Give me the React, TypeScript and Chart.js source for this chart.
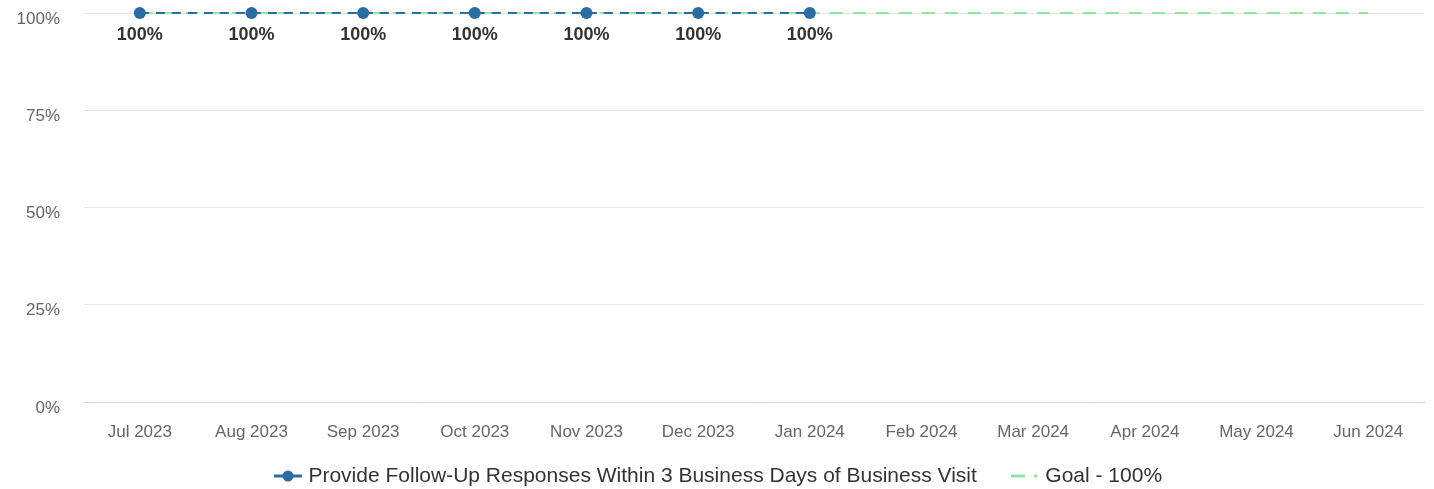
import React, { useEffect, useRef } from "react";
import { Chart, registerables } from "chart.js";

Chart.register(...registerables);

const categories = ["Jul 2023", "Aug 2023", "Sep 2023", "Oct 2023", "Nov 2023", "Dec 2023", "Jan 2024", "Feb 2024", "Mar 2024", "Apr 2024", "May 2024", "Jun 2024"];
const responseValues: (number | null)[] = [100, 100, 100, 100, 100, 100, 100, null, null, null, null, null];
const goalValues = [100, 100, 100, 100, 100, 100, 100, 100, 100, 100, 100, 100];
const yTicks = [0, 25, 50, 75, 100];

const seriesName = "Provide Follow-Up Responses Within 3 Business Days of Business Visit";
const goalName = "Goal - 100%";

const BLUE = "#2b6ca3";
const GREEN = "#8fe6a3";
const FONT = "'Liberation Sans', Arial, sans-serif";

function makeSeriesIcon() {
  const c = document.createElement("canvas");
  c.width = 28; c.height = 14;
  const ctx = c.getContext("2d")!;
  ctx.strokeStyle = BLUE; ctx.lineWidth = 3;
  ctx.beginPath(); ctx.moveTo(0, 7); ctx.lineTo(28, 7); ctx.stroke();
  ctx.fillStyle = BLUE;
  ctx.beginPath(); ctx.arc(14, 7, 5.5, 0, Math.PI * 2); ctx.fill();
  return c;
}
function makeGoalIcon() {
  const c = document.createElement("canvas");
  c.width = 28; c.height = 14;
  const ctx = c.getContext("2d")!;
  ctx.strokeStyle = GREEN; ctx.lineWidth = 3;
  ctx.beginPath(); ctx.moveTo(0, 7); ctx.lineTo(14, 7); ctx.stroke();
  ctx.beginPath(); ctx.moveTo(23, 7); ctx.lineTo(26, 7); ctx.stroke();
  return c;
}

const dataLabelPlugin = {
  id: "dataLabels",
  afterDatasetsDraw(chart: any) {
    const ctx = chart.ctx;
    const meta = chart.getDatasetMeta(0);
    ctx.save();
    ctx.font = `bold 18px ${FONT}`;
    ctx.fillStyle = "#333333";
    ctx.textAlign = "center";
    ctx.textBaseline = "middle";
    meta.data.forEach((pt: any, i: number) => {
      const v = responseValues[i];
      if (v == null) return;
      ctx.fillText(`${v}%`, pt.x, pt.y + 22);
    });
    ctx.restore();
  },
};

const layoutTweakPlugin = {
  id: "layoutTweak",
  afterLayout(chart: any) {
    const lg = chart.legend;
    if (lg) {
      lg.top += 7.5;
      lg.bottom += 7.5;
      lg.left += 8;
      lg.right += 8;
    }
    const x = chart.scales.x;
    if (x) x.bottom = x.top + 60;
  },
};

export default function App() {
  const ref = useRef<HTMLCanvasElement>(null);
  useEffect(() => {
    document.body.style.margin = "0";
    const icons = [makeSeriesIcon(), makeGoalIcon()];
    const chart = new Chart(ref.current!, {
      type: "line",
      data: {
        labels: categories,
        datasets: [
          {
            label: seriesName,
            data: responseValues,
            borderColor: BLUE,
            backgroundColor: BLUE,
            borderWidth: 2,
            borderDash: [9, 7],
            pointRadius: 6,
            pointHoverRadius: 6,
            pointBackgroundColor: BLUE,
            pointBorderWidth: 0,
            clip: false,
            order: 0,
          },
          {
            label: goalName,
            data: goalValues,
            borderColor: GREEN,
            backgroundColor: GREEN,
            borderWidth: 2,
            borderDash: [13, 10],
            pointRadius: 0,
            clip: false,
            order: 1,
          },
        ],
      },
      options: {
        animation: false,
        responsive: false,
        layout: { padding: { top: 13, right: 10, left: 0, bottom: 0 } },
        plugins: {
          tooltip: { enabled: false },
          legend: {
            position: "bottom",
            labels: {
              usePointStyle: true,
              pointStyleWidth: 20,
              boxWidth: 20,
              boxHeight: 14,
              padding: 38,
              color: "#333333",
              font: { family: FONT, size: 21 },
              generateLabels: (chart: any) =>
                chart.data.datasets.map((ds: any, i: number) => ({
                  text: ds.label,
                  pointStyle: icons[i],
                  datasetIndex: i,
                  fontColor: "#333333",
                  lineWidth: 0,
                  strokeStyle: "transparent",
                  fillStyle: "transparent",
                })),
            },
          },
        },
        scales: {
          x: {
            offset: true,
            grid: { display: false },
            border: { color: "#ccd6eb", width: 1 },
            afterFit: (s: any) => { s.height = 18; s.paddingLeft = 0; s.paddingRight = 0; },
            ticks: { color: "#666666", font: { family: FONT, size: 17 }, padding: 12, maxRotation: 0 },
          },
          y: {
            min: 0,
            max: 100,
            afterFit: (s: any) => { s.width = 84; s.paddingTop = 0; s.paddingBottom = 0; },
            afterBuildTicks: (s: any) => { s.ticks = yTicks.map((v) => ({ value: v })); },
            grid: { color: "#e6e6e6", drawTicks: false },
            border: { display: false },
            ticks: {
              color: "#666666",
              font: { family: FONT, size: 17 },
              padding: 24,
              labelOffset: 6,
              callback: (v: any) => `${v}%`,
            },
          },
        },
      },
      plugins: [dataLabelPlugin, layoutTweakPlugin],
    });
    return () => chart.destroy();
  }, []);
  return <canvas ref={ref} width={1434} height={489} style={{ display: "block" }} />;
}
